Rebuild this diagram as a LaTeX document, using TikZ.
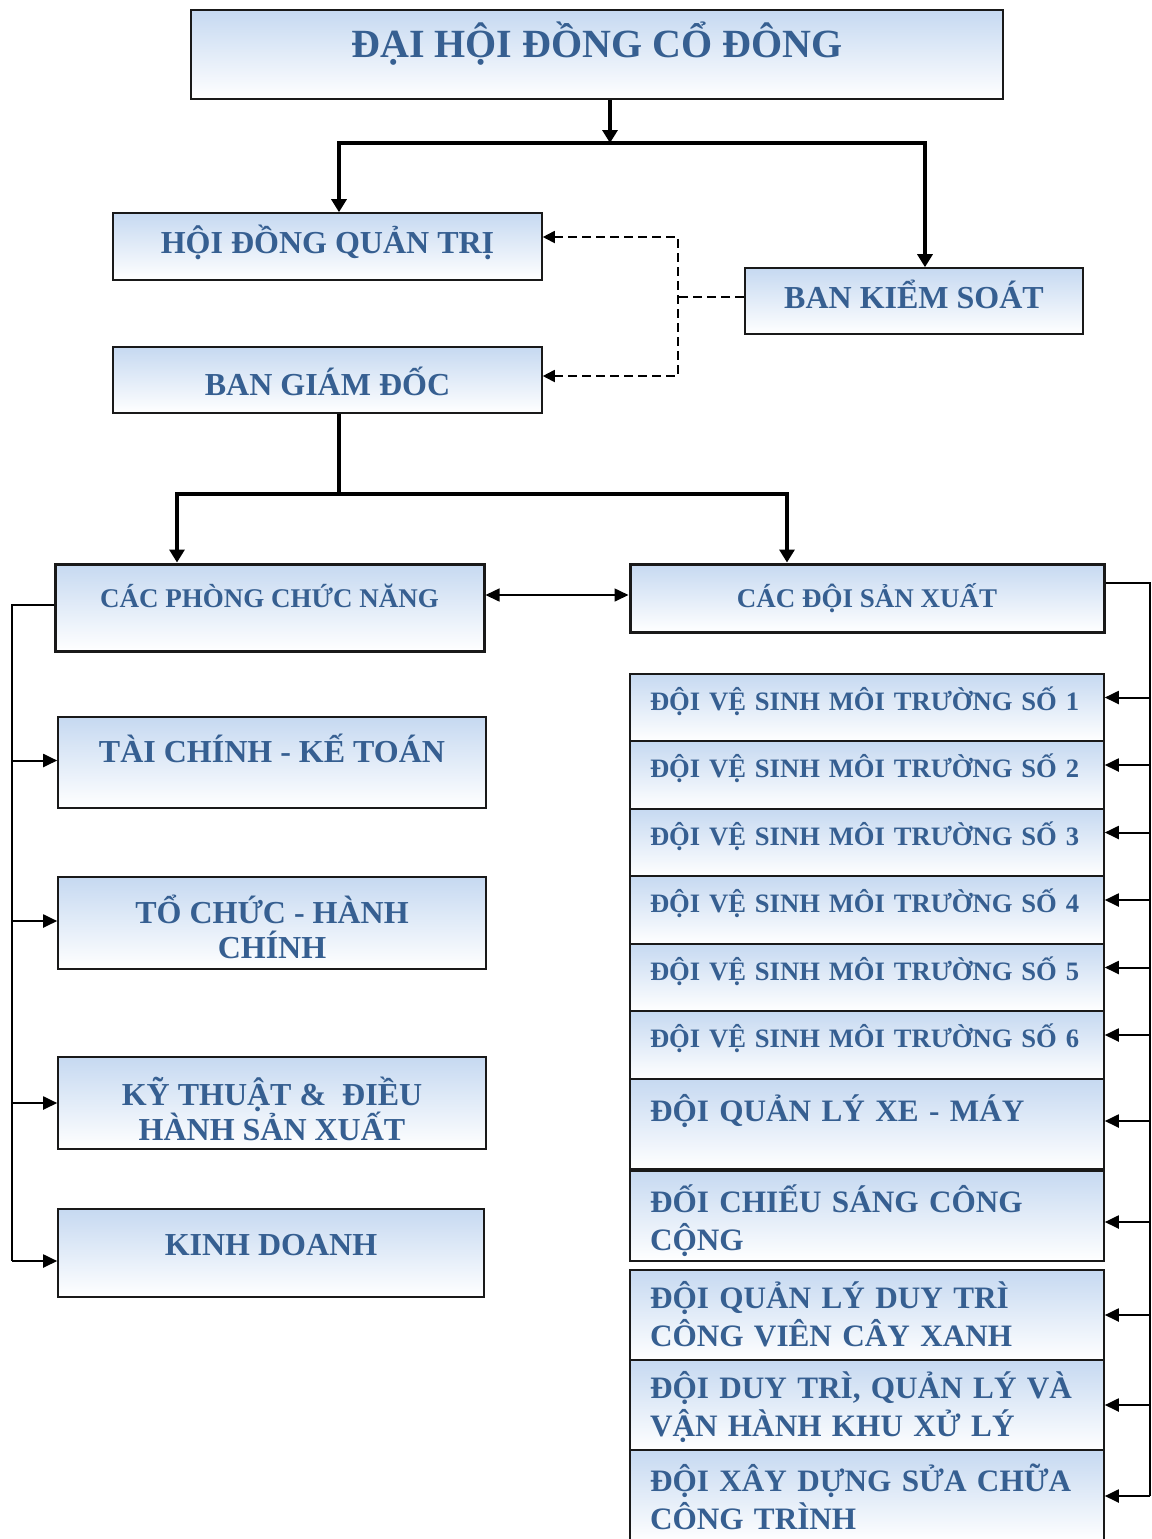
\documentclass[tikz,border=0pt]{standalone}
\usepackage{fontspec}
\setmainfont{Liberation Serif}
\usetikzlibrary{arrows.meta}
\definecolor{boxblue}{RGB}{198,217,241}
\definecolor{textblue}{RGB}{54,95,145}
\begin{document}
\begin{tikzpicture}[x=0.5pt,y=-0.5pt,line join=miter,
  box/.style={draw=black!90, line width=0.8pt, top color=boxblue, bottom color=white,
    text=textblue, inner sep=0pt, align=center,
    font=\bfseries\fontsize{16}{17.5}\selectfont},
  thickbox/.style={box, line width=1.5pt, font=\bfseries\fontsize{13.5}{15}\selectfont},
  rbox/.style={box, minimum width=237pt, text width=217pt, align=left},
  vsbox/.style={rbox, minimum height=33.75pt, font=\bfseries\fontsize{13.3}{15}\selectfont},
  bigbox/.style={rbox, minimum height=45pt, font=\bfseries\fontsize{15.6}{19}\selectfont},
  base/.style={text height=#1pt, text depth=0pt},
  sink/.style={text height=0pt, text depth=#1pt},
  tree/.style={line width=1.6pt, >={Triangle[length=6.5pt,width=7.5pt]}},
  dashline/.style={line width=0.9pt, dash pattern=on 4.5pt off 2.5pt, >={Triangle[length=6pt,width=6pt]}},
  bus/.style={line width=1.2pt, >={Triangle[length=7pt,width=6.5pt]}}]
\useasboundingbox (0,0) rectangle (1152,1539);

\node[box, minimum width=406pt, minimum height=44.5pt, base=2.5, font=\bfseries\fontsize{20}{22}\selectfont] (dhdcd) at (597,54.5) {ĐẠI HỘI ĐỒNG CỔ ĐÔNG};
\node[box, minimum width=214.5pt, minimum height=33.5pt, base=6.5] (hdqt) at (327.5,246.5) {HỘI ĐỒNG QUẢN TRỊ};
\node[box, minimum width=169pt, minimum height=33pt, base=7] (bks) at (914,301) {BAN KIỂM SOÁT};
\node[box, minimum width=214.5pt, minimum height=33pt, base=15] (bgd) at (327.5,380) {BAN GIÁM ĐỐC};

\node[thickbox, minimum width=214.5pt, minimum height=43.5pt, base=0] (cpcn) at (269.5,607.5) {CÁC PHÒNG CHỨC NĂNG};
\node[thickbox, minimum width=237pt, minimum height=34pt, base=9] (cdsx) at (867,598) {CÁC ĐỘI SẢN XUẤT};

\node[box, minimum width=214pt, minimum height=45.5pt, base=0] (tckt) at (272,762.5) {TÀI CHÍNH - KẾ TOÁN};
\node[box, minimum width=214pt, minimum height=46pt, base=35] (tchc) at (272,923) {TỔ CHỨC - HÀNH\\CHÍNH};
\node[box, minimum width=214pt, minimum height=46pt, base=37] (ktdh) at (272,1103) {KỸ THUẬT \&~ ĐIỀU\\HÀNH SẢN XUẤT};
\node[box, minimum width=213pt, minimum height=44pt, base=2] (kd) at (271,1253) {KINH DOANH};

\foreach \i in {1,...,6}
  \node[vsbox, base=2.5] (d\i) at (867,{640+67.5*\i}) {ĐỘI VỆ SINH MÔI TRƯỜNG SỐ \i};
\node[bigbox, sink=3] (qlxm) at (867,1124) {ĐỘI QUẢN LÝ XE - MÁY};
\node[bigbox, sink=4] (cscc) at (867,1216) {ĐỐI CHIẾU SÁNG CÔNG\\CỘNG};
\node[bigbox, sink=7] (qldt) at (867,1315) {ĐỘI QUẢN LÝ DUY TRÌ\\CÔNG VIÊN CÂY XANH};
\node[bigbox, sink=7] (dtql) at (867,1405) {ĐỘI DUY TRÌ, QUẢN LÝ VÀ\\VẬN HÀNH KHU XỬ LÝ};
\node[bigbox, sink=5, minimum height=46pt] (xdsc) at (867,1496) {ĐỘI XÂY DỰNG SỬA CHỮA\\CÔNG TRÌNH};

\coordinate (t1) at (610,143);
\coordinate (tl) at (339,143);
\coordinate (tr) at (925,143);
\draw[tree,->] (t1 |- dhdcd.south) -- (t1);
\draw[tree,<->] (tl |- hdqt.north) -- (tl) -- (tr) -- (tr |- bks.north);

\coordinate (dj) at (678,297);
\coordinate (dt) at (678,237);
\coordinate (db) at (678,376);
\draw[dashline] (dj -| bks.west) -- (dj);
\draw[dashline,<->] (dt -| hdqt.east) -- (dt) -- (db) -- (db -| bgd.east);

\coordinate (m) at (339,494);
\coordinate (ml) at (177,494);
\coordinate (mr) at (787,494);
\draw[tree] (m |- bgd.south) -- (m);
\draw[tree,<->] (ml |- cpcn.north) -- (ml) -- (mr) -- (mr |- cdsx.north);

\coordinate (h) at (0,595);
\draw[bus,line width=0.8pt,<->] (h -| cpcn.east) -- (h -| cdsx.west);

\coordinate (lb) at (12,605);
\draw[bus] (lb -| cpcn.west) -- (lb) -- ([yshift=-4pt]kd.west -| lb);
\foreach \b/\s in {tckt/1,tchc/1,ktdh/0,kd/-4}
  \draw[bus,line width=1pt,->] ([yshift=\s pt]\b.west -| lb) -- ([yshift=\s pt]\b.west);

\coordinate (rb) at (1150,583);
\draw[bus] (rb -| cdsx.east) -- (rb) -- (xdsc.east -| rb);
\foreach \b/\s in {d1/5,d2/5,d3/5,d4/5,d5/5,d6/5,qlxm/1.5,cscc/-3,qldt/0,dtql/0,xdsc/0}
  \draw[bus,line width=1pt,->] ([yshift=\s pt]\b.east -| rb) -- ([yshift=\s pt]\b.east);
\end{tikzpicture}
\end{document}
